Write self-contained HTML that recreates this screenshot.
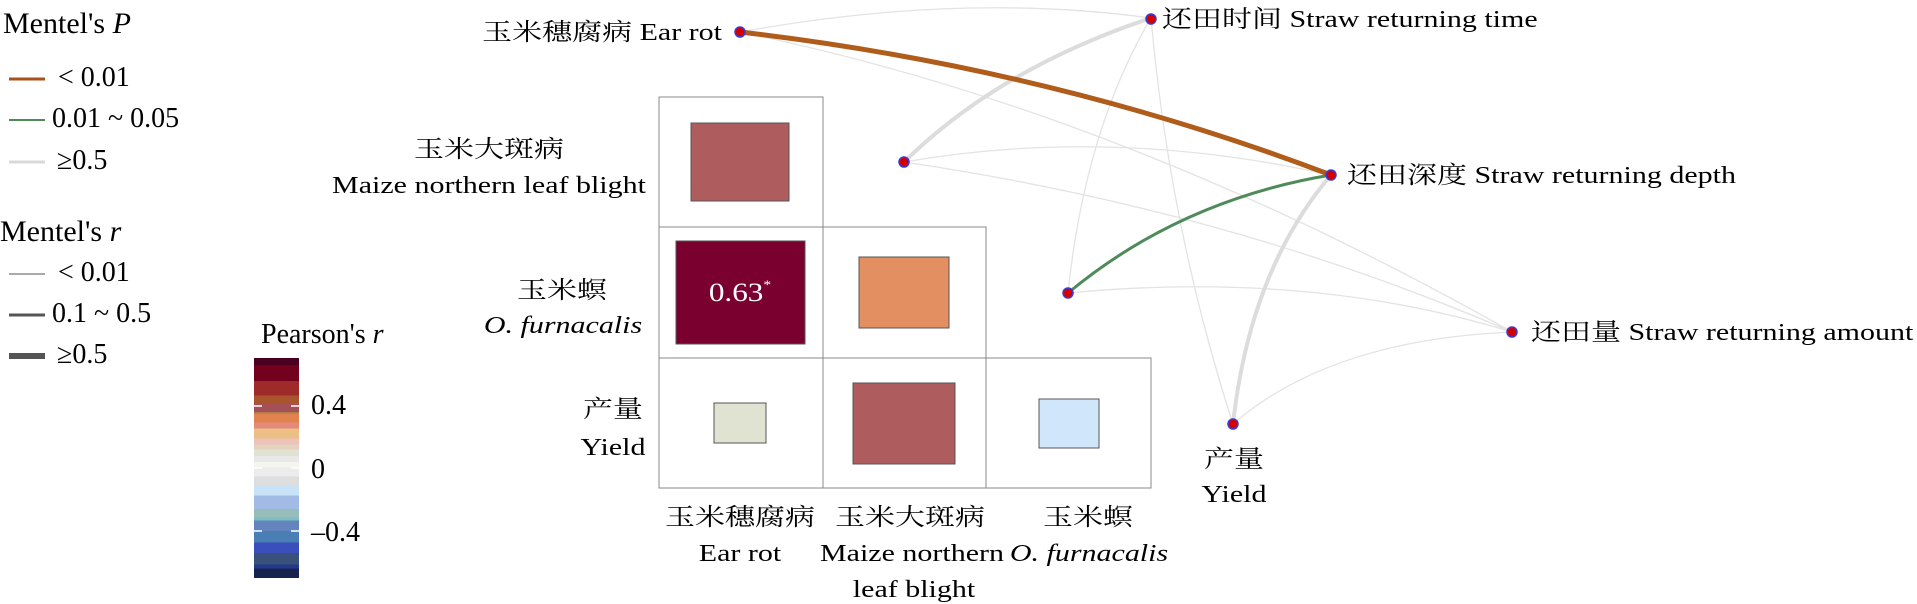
<!DOCTYPE html>
<html><head><meta charset="utf-8"><style>
html,body{margin:0;padding:0;background:#fff;}
svg{display:block;}
text{font-family:"Liberation Serif","Noto Serif CJK SC","Noto Sans CJK SC",serif;fill:#000;}
</style></head><body>
<svg width="1917" height="604" viewBox="0 0 1917 604" xmlns="http://www.w3.org/2000/svg">
<defs>
<linearGradient id="cb" x1="0" y1="0" x2="0" y2="1">
<stop offset="0" stop-color="#4a0020"/><stop offset="0.031" stop-color="#4a0020"/>
<stop offset="0.031" stop-color="#74001f"/><stop offset="0.105" stop-color="#74001f"/>
<stop offset="0.105" stop-color="#9e2a2a"/><stop offset="0.171" stop-color="#9e2a2a"/>
<stop offset="0.171" stop-color="#a9542c"/><stop offset="0.21" stop-color="#a9542c"/>
<stop offset="0.21" stop-color="#a45056"/><stop offset="0.245" stop-color="#a45056"/>
<stop offset="0.245" stop-color="#b07a4a"/><stop offset="0.253" stop-color="#b07a4a"/>
<stop offset="0.253" stop-color="#e0834f"/><stop offset="0.294" stop-color="#e0834f"/>
<stop offset="0.294" stop-color="#e58a7a"/><stop offset="0.32" stop-color="#e58a7a"/>
<stop offset="0.32" stop-color="#ecbf85"/><stop offset="0.367" stop-color="#ecbf85"/>
<stop offset="0.367" stop-color="#ecc2bb"/><stop offset="0.393" stop-color="#ecc2bb"/>
<stop offset="0.393" stop-color="#e5d3bf"/><stop offset="0.416" stop-color="#e5d3bf"/>
<stop offset="0.416" stop-color="#e0e2d2"/><stop offset="0.446" stop-color="#e0e2d2"/>
<stop offset="0.446" stop-color="#e8e8e8"/><stop offset="0.472" stop-color="#e8e8e8"/>
<stop offset="0.472" stop-color="#f5f5f0"/><stop offset="0.498" stop-color="#f5f5f0"/>
<stop offset="0.498" stop-color="#ececec"/><stop offset="0.538" stop-color="#ececec"/>
<stop offset="0.538" stop-color="#dedede"/><stop offset="0.58" stop-color="#dedede"/>
<stop offset="0.58" stop-color="#c8e3f8"/><stop offset="0.625" stop-color="#c8e3f8"/>
<stop offset="0.625" stop-color="#a1bbe6"/><stop offset="0.687" stop-color="#a1bbe6"/>
<stop offset="0.687" stop-color="#96bdb9"/><stop offset="0.725" stop-color="#96bdb9"/>
<stop offset="0.725" stop-color="#7bbfbf"/><stop offset="0.739" stop-color="#7bbfbf"/>
<stop offset="0.739" stop-color="#6384bd"/><stop offset="0.787" stop-color="#6384bd"/>
<stop offset="0.787" stop-color="#4a7fb5"/><stop offset="0.839" stop-color="#4a7fb5"/>
<stop offset="0.839" stop-color="#3a4fbb"/><stop offset="0.886" stop-color="#3a4fbb"/>
<stop offset="0.886" stop-color="#39507a"/><stop offset="0.939" stop-color="#39507a"/>
<stop offset="0.939" stop-color="#233a8a"/><stop offset="0.956" stop-color="#233a8a"/>
<stop offset="0.956" stop-color="#16234f"/><stop offset="1" stop-color="#16234f"/>
</linearGradient>
</defs>

<!-- Legend Mentel's P -->
<text x="3" y="33" font-size="30">Mentel's <tspan font-style="italic">P</tspan></text>
<line x1="9" y1="79" x2="45" y2="79" stroke="#a8521a" stroke-width="3"/>
<text x="58" y="86" font-size="28">&lt; 0.01</text>
<line x1="9" y1="120" x2="45" y2="120" stroke="#4f8a5a" stroke-width="2"/>
<text x="52" y="127" font-size="28">0.01 ~ 0.05</text>
<line x1="9" y1="162" x2="45" y2="162" stroke="#d9d9d9" stroke-width="3"/>
<text x="57" y="169" font-size="28">≥0.5</text>

<!-- Legend Mentel's r -->
<text x="0" y="241" font-size="30">Mentel's <tspan font-style="italic">r</tspan></text>
<line x1="9" y1="274" x2="45" y2="274" stroke="#555" stroke-width="1"/>
<text x="58" y="281" font-size="28">&lt; 0.01</text>
<line x1="9" y1="315" x2="45" y2="315" stroke="#555" stroke-width="3"/>
<text x="52" y="322" font-size="28">0.1 ~ 0.5</text>
<line x1="9" y1="356" x2="45" y2="356" stroke="#555" stroke-width="6"/>
<text x="57" y="363" font-size="28">≥0.5</text>

<!-- Colorbar -->
<text x="261" y="343" font-size="28">Pearson's <tspan font-style="italic">r</tspan></text>
<rect x="254" y="358" width="45" height="220" fill="url(#cb)"/>
<g stroke="#fff" stroke-width="1.5">
<line x1="254" y1="406" x2="262" y2="406"/><line x1="291" y1="406" x2="299" y2="406"/>
<line x1="254" y1="468" x2="262" y2="468"/><line x1="291" y1="468" x2="299" y2="468"/>
<line x1="254" y1="531" x2="262" y2="531"/><line x1="291" y1="531" x2="299" y2="531"/>
</g>
<text x="311" y="414" font-size="28">0.4</text>
<text x="311" y="478" font-size="28">0</text>
<text x="311" y="541" font-size="28">–0.4</text>

<!-- Matrix grid -->
<g fill="none" stroke="#888" stroke-width="1">
<rect x="659" y="97" width="164" height="130"/>
<rect x="659" y="227" width="164" height="131"/>
<rect x="823" y="227" width="163" height="131"/>
<rect x="659" y="358" width="164" height="130"/>
<rect x="823" y="358" width="163" height="130"/>
<rect x="986" y="358" width="165" height="130"/>
</g>
<g stroke="#555" stroke-width="1">
<rect x="691" y="123" width="98" height="78" fill="#ae5c5e"/>
<rect x="676" y="241" width="129" height="103" fill="#7a0030"/>
<rect x="859" y="257" width="90" height="71" fill="#e38f62"/>
<rect x="714" y="403" width="52" height="40" fill="#e0e2d2"/>
<rect x="853" y="383" width="102" height="81" fill="#ae5c5e"/>
<rect x="1039" y="399" width="60" height="49" fill="#cfe6fb"/>
</g>
<text transform="translate(740,301) scale(1.2,1)" text-anchor="middle" font-size="26" style="fill:#fff">0.63<tspan font-size="13" dy="-12">*</tspan></text>

<!-- Edges thin grey -->
<g fill="none" stroke="#e3e3e3" stroke-width="1.3">
<path d="M740,32 Q960,-8 1151,18"/>
<path d="M740,32 Q1120,110 1512,332"/>
<path d="M904,162 Q1110,126 1331,175"/>
<path d="M904,162 Q1230,210 1512,332"/>
<path d="M1068,293 Q1310,270 1512,332"/>
<path d="M1068,293 Q1085,130 1151,18"/>
<path d="M1151,18 Q1170,230 1233,424"/>
<path d="M1233,424 Q1330,340 1512,332"/>
</g>
<!-- thick grey -->
<path d="M904,162 Q1000,68 1151,18" fill="none" stroke="#dcdcdc" stroke-width="4"/>
<path d="M1233,424 Q1250,270 1331,175" fill="none" stroke="#dcdcdc" stroke-width="4"/>
<!-- green -->
<path d="M1068,293 Q1180,200 1331,175" fill="none" stroke="#4f8a5a" stroke-width="3"/>
<!-- brown -->
<path d="M740,32 Q1050,68 1331,175" fill="none" stroke="#b05c1a" stroke-width="5"/>

<!-- Nodes -->
<g fill="#d40000" stroke="#3a3ad8" stroke-width="1.5">
<circle cx="740" cy="32" r="5"/>
<circle cx="1151" cy="19" r="5"/>
<circle cx="904" cy="162" r="5"/>
<circle cx="1331" cy="175" r="5"/>
<circle cx="1068" cy="293" r="5"/>
<circle cx="1512" cy="332" r="5"/>
<circle cx="1233" cy="424" r="5"/>
</g>

<!-- Node labels -->
<g font-size="24">
<text transform="translate(722,40) scale(1.25,1)" text-anchor="end">玉米穗腐病 Ear rot</text>
<text transform="translate(1162,27) scale(1.25,1)">还田时间 Straw returning time</text>
<text transform="translate(1347,183) scale(1.25,1)">还田深度 Straw returning depth</text>
<text transform="translate(1531,340) scale(1.25,1)">还田量 Straw returning amount</text>
<text transform="translate(1234,467) scale(1.25,1)" text-anchor="middle">产量</text>
<text transform="translate(1234,502) scale(1.25,1)" text-anchor="middle">Yield</text>

<!-- left labels -->
<text transform="translate(489,157) scale(1.25,1)" text-anchor="middle">玉米大斑病</text>
<text transform="translate(489,193) scale(1.25,1)" text-anchor="middle">Maize northern leaf blight</text>
<text transform="translate(562,298) scale(1.25,1)" text-anchor="middle">玉米螟</text>
<text transform="translate(563,333) scale(1.25,1)" text-anchor="middle" font-style="italic">O. furnacalis</text>
<text transform="translate(613,417) scale(1.25,1)" text-anchor="middle">产量</text>
<text transform="translate(613,455) scale(1.25,1)" text-anchor="middle">Yield</text>

<!-- bottom labels -->
<text transform="translate(740,525) scale(1.25,1)" text-anchor="middle">玉米穗腐病</text>
<text transform="translate(740,561) scale(1.25,1)" text-anchor="middle">Ear rot</text>
<text transform="translate(910,525) scale(1.25,1)" text-anchor="middle">玉米大斑病</text>
<text transform="translate(912,561) scale(1.25,1)" text-anchor="middle">Maize northern</text>
<text transform="translate(914,597) scale(1.25,1)" text-anchor="middle">leaf blight</text>
<text transform="translate(1088,525) scale(1.25,1)" text-anchor="middle">玉米螟</text>
<text transform="translate(1089,561) scale(1.25,1)" text-anchor="middle" font-style="italic">O. furnacalis</text>
</g>
</svg>
</body></html>
